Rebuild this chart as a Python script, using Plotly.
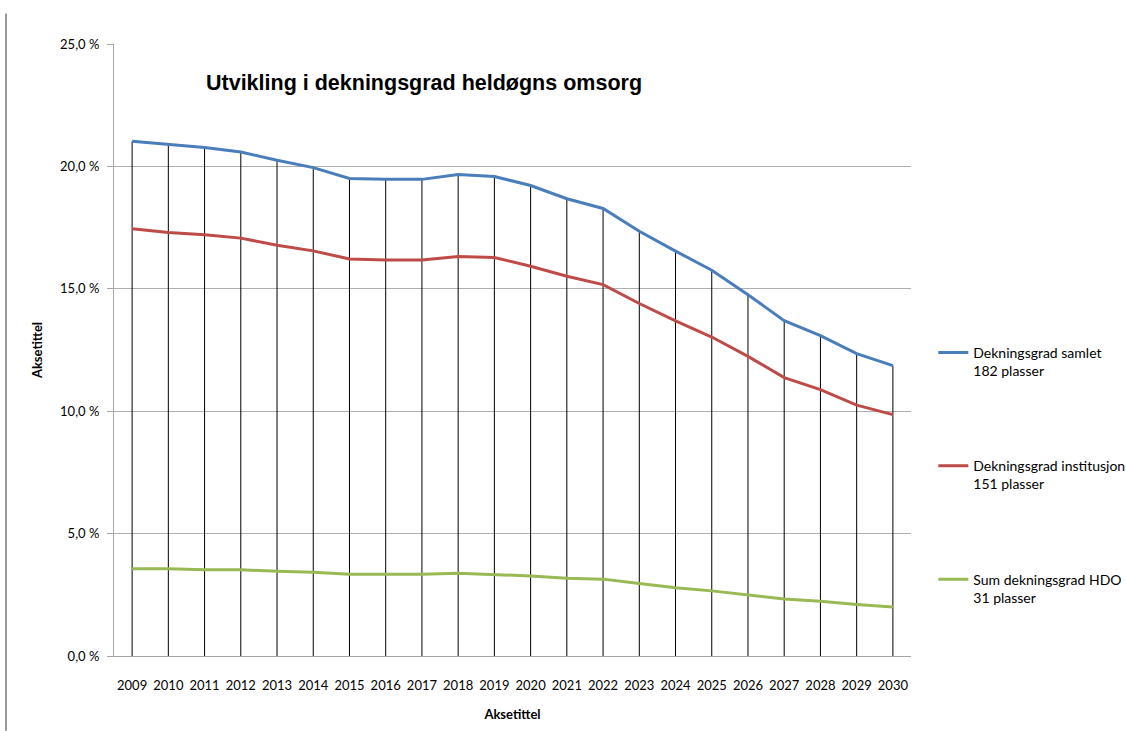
import plotly.graph_objects as go

years = [str(y) for y in range(2009, 2031)]
samlet = [21.03, 20.90, 20.77, 20.59, 20.25, 19.95, 19.51, 19.47, 19.47, 19.67, 19.59,
          19.22, 18.68, 18.28, 17.35, 16.54, 15.76, 14.76, 13.70, 13.09, 12.35, 11.86]
institusjon = [17.45, 17.30, 17.21, 17.07, 16.78, 16.55, 16.22, 16.18, 16.18, 16.32, 16.28,
               15.92, 15.51, 15.17, 14.40, 13.69, 13.03, 12.24, 11.37, 10.88, 10.25, 9.86]
hdo = [3.56, 3.56, 3.52, 3.52, 3.46, 3.42, 3.34, 3.34, 3.34, 3.38, 3.34,
       3.27, 3.18, 3.14, 2.96, 2.79, 2.66, 2.51, 2.33, 2.24, 2.10, 2.00]
series_names = ["Dekningsgrad samlet<br>182 plasser",
                "Dekningsgrad institusjon<br>151 plasser",
                "Sum dekningsgrad HDO<br>31 plasser"]
colors = ["#4a7ebb", "#be4b48", "#98b954"]
y_ticks = [0, 5, 10, 15, 20, 25]
y_ticktext = [f"{v:.1f}".replace(".", ",") + " %" for v in y_ticks]

FONT = "Lato, Carlito, Calibri, sans-serif"

fig = go.Figure()

# drop lines from the axis up to the top series
fig.add_trace(go.Scatter(
    x=years, y=samlet, mode="markers",
    marker=dict(size=1, color="rgba(0,0,0,0)"),
    error_y=dict(type="data", symmetric=False, array=[0] * len(years),
                 arrayminus=samlet, width=0, color="black", thickness=1),
    showlegend=False, hoverinfo="skip"))

for i, (name, vals) in enumerate(zip(series_names, [samlet, institusjon, hdo])):
    fig.add_trace(go.Scatter(
        x=years, y=vals, mode="lines", name=name, legendgroup=f"g{i}",
        line=dict(color=colors[i], width=3)))

fig.update_layout(
    width=1126, height=731,
    margin=dict(l=114, r=215, t=44, b=75, autoexpand=False),
    paper_bgcolor="white", plot_bgcolor="white",
    font=dict(family=FONT, size=13, color="#000000"),
    showlegend=True,
    legend=dict(x=1.028, xanchor="left", y=0.5215, yanchor="top",
                tracegroupgap=74, valign="top",
                font=dict(family=FONT, size=14, color="#000000"),
                bgcolor="rgba(0,0,0,0)"),
    xaxis=dict(type="category", range=[-0.5, 21.5], showgrid=False,
               showline=True, linecolor="#a6a6a6", linewidth=1,
               ticks="", tickfont=dict(family=FONT, size=13),
               ticklabelstandoff=17,
               title=dict(text="<b>Aksetittel</b>", standoff=18,
                          font=dict(family=FONT, size=13))),
    yaxis=dict(range=[0, 25], tickvals=y_ticks, ticktext=y_ticktext,
               showgrid=True, gridcolor="#b0b0b0", gridwidth=1,
               showline=True, linecolor="#a6a6a6", linewidth=1,
               ticks="outside", ticklen=6, tickcolor="#a6a6a6",
               zeroline=False, ticklabelstandoff=5,
               tickfont=dict(family=FONT, size=13),
               title=dict(text="<b>Aksetittel</b>", standoff=14,
                          font=dict(family=FONT, size=13))),
    annotations=[dict(
        text="<b>Utvikling i dekningsgrad heldøgns omsorg</b>",
        xref="paper", yref="paper", x=0.389, y=0.936,
        xanchor="center", yanchor="middle", showarrow=False,
        font=dict(family="Liberation Sans Narrow, Arial Narrow, Liberation Sans, Arial",
                  size=21.5, color="#000000"))],
    shapes=[dict(type="line", xref="paper", yref="paper",
                 x0=-0.1355, x1=-0.1355, y0=-0.122, y1=1.05,
                 line=dict(color="#999999", width=2))],
)

fig.write_html("out.html")
